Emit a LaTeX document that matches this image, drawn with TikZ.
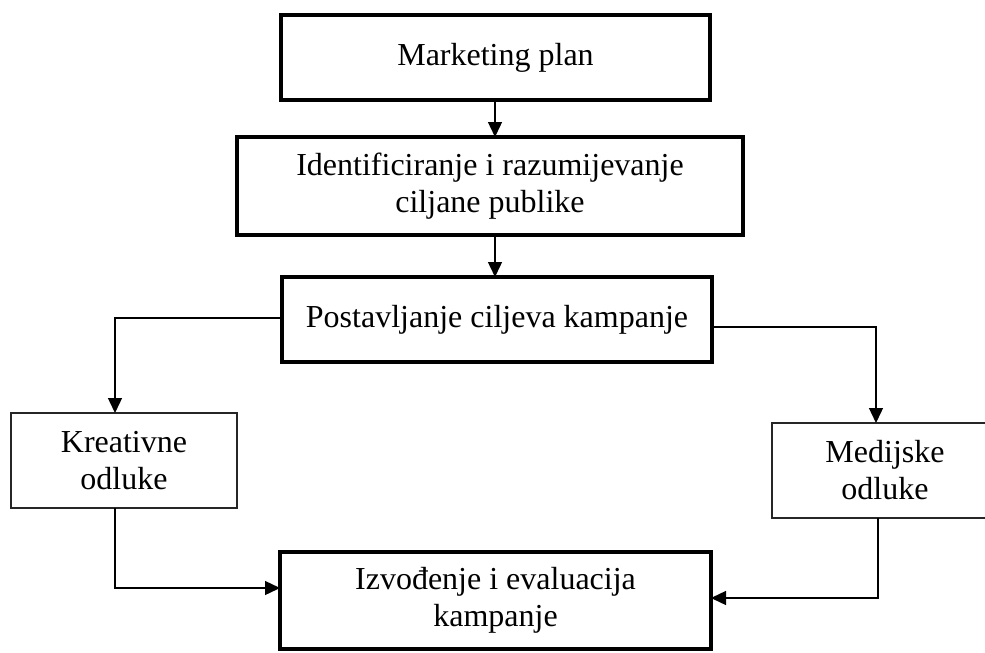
\documentclass[tikz,border=0pt]{standalone}
\usepackage{fontspec}
\setmainfont{Liberation Serif}
\usetikzlibrary{arrows.meta}
\tikzset{
  thickbox/.style={draw=black, line width=4.5pt, inner sep=0pt, outer sep=0pt, align=center,
    font=\fontsize{32}{37}\selectfont},
  thinbox/.style={draw=black!85, line width=1.3pt, inner sep=0pt, outer sep=0pt, align=center,
    font=\fontsize{32}{37}\selectfont},
  conn/.style={draw=black, line width=1.4pt, -{Triangle[length=15pt,width=14pt]}},
}
\begin{document}
\begin{tikzpicture}[x=1pt,y=-1pt]
\useasboundingbox (0,0) rectangle (985,653);
\node[thickbox, minimum width=429pt, minimum height=85pt] (mp) at (495.5,57.5) {Marketing plan};
\node[thickbox, minimum width=506pt, minimum height=98pt] (id) at (490,186) {Identificiranje i razumijevanje\\ciljane publike};
\node[thickbox, minimum width=430pt, minimum height=85pt] (pc) at (497,319.5) {Postavljanje ciljeva kampanje};
\node[thinbox, minimum width=226pt, minimum height=95pt] (kr) at (124,460.5) {Kreativne\\odluke};
\node[thinbox, minimum width=226pt, minimum height=95pt] (me) at (885,470.5) {Medijske\\odluke};
\node[thickbox, minimum width=431pt, minimum height=97pt] (iz) at (495.5,600.5) {Izvođenje i evaluacija\\kampanje};
\draw[conn] (mp.south -| 495,0) -- (id.north -| 495,0);
\draw[conn] (id.south -| 495,0) -- (pc.north -| 495,0);
\draw[conn] ([yshift=1.5pt]pc.west) -| ([xshift=-9pt]kr.north);
\draw[conn] ([yshift=-7.5pt]pc.east) -| ([xshift=-9pt]me.north);
\draw[conn] ([xshift=-9pt]kr.south) |- ([yshift=12.5pt]iz.west);
\draw[conn] ([xshift=-7pt]me.south) |- ([yshift=2.5pt]iz.east);
\end{tikzpicture}
\end{document}
